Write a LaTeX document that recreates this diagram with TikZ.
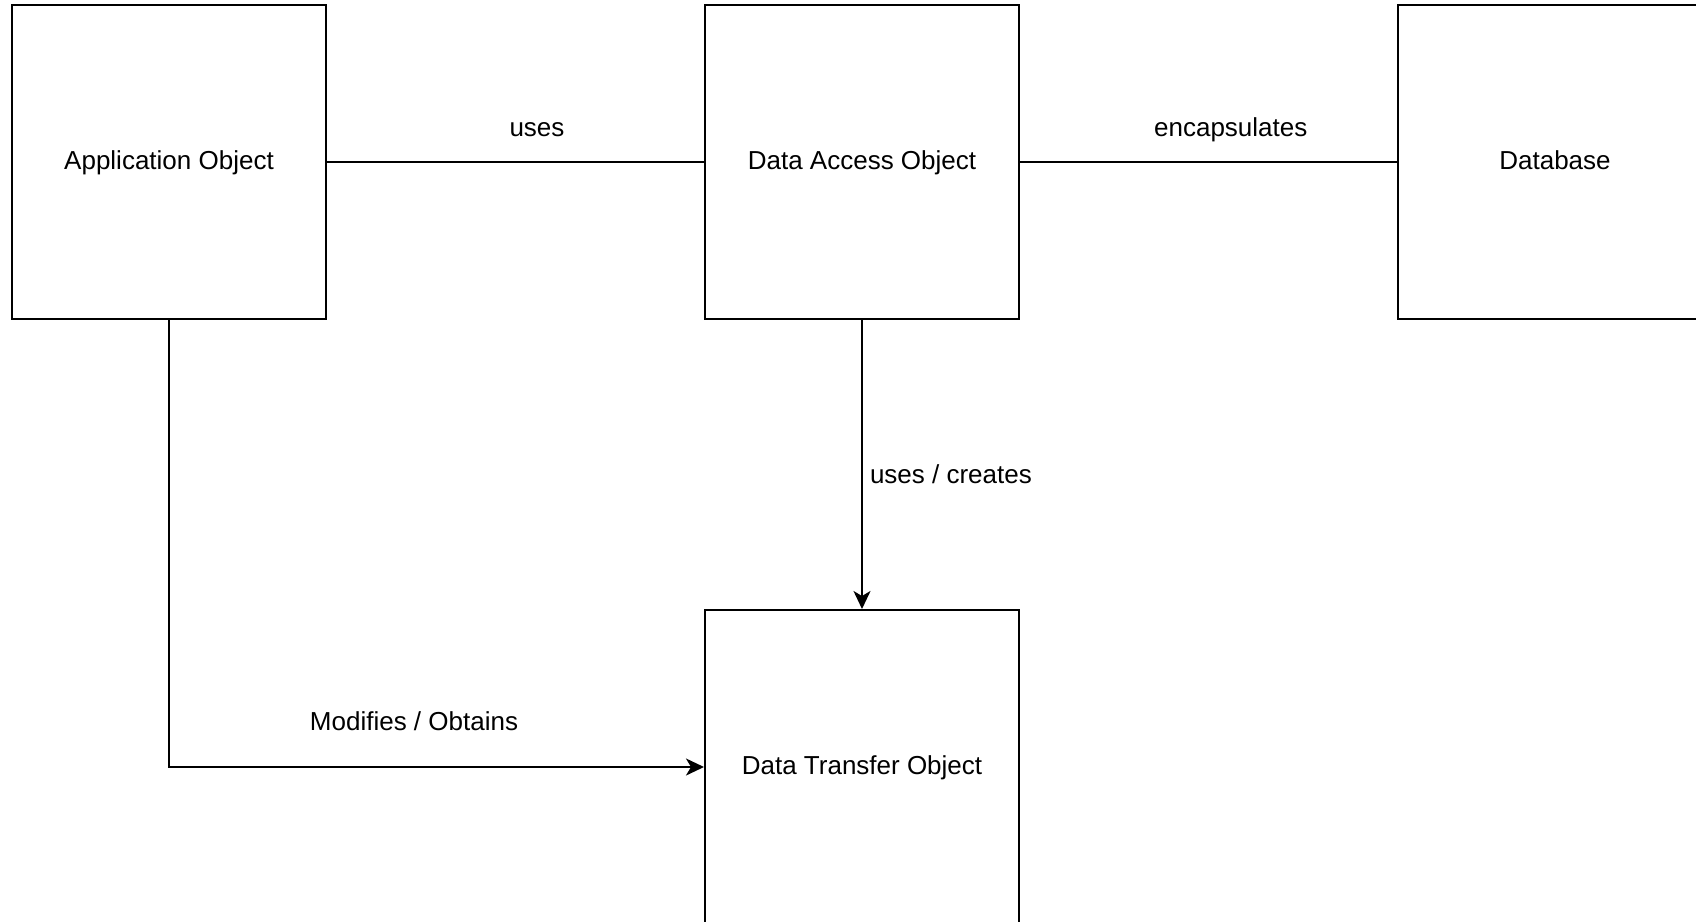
\documentclass[tikz,border=0pt]{standalone}
\usepackage{fontspec}
\setmainfont{Liberation Sans}
\usetikzlibrary{arrows.meta}

\begin{document}
\begin{tikzpicture}[x=0.5pt,y=-0.5pt,
  box/.style={draw,line width=1pt,minimum width=157pt,minimum height=157pt,inner sep=0pt,
    text height=10pt,text depth=3pt,font=\fontsize{13}{15}\selectfont},
  lbl/.style={inner sep=0pt,font=\fontsize{13}{15}\selectfont},
  link/.style={line width=1pt},
  arr/.style={line width=1pt,-{Stealth[length=9pt,width=8.5pt,inset=2.5pt]}}]
\useasboundingbox (0,0) rectangle (1696,921);
\node[box] (app) at (169,162) {Application Object};
\node[box] (dao) at (862,162) {Data Access Object};
\node[box] (db) at (1555,162) {Database};
\node[box] (dto) at (862,767) {Data Transfer Object};
\draw[link] (app) -- node[lbl,pos=0.557,anchor=base,yshift=13pt] (uses) {uses} (dao);
\draw[link] (dao) -- node[lbl,pos=0.559,anchor=base,yshift=13pt] (encaps) {encapsulates} (db);
\draw[arr] (dao) -- node[lbl,pos=0.564,anchor=base west,xshift=3.5pt] (creates) {uses / creates} (dto);
\draw[arr] (app) |- node[lbl,pos=0.729,anchor=base,yshift=18.5pt] (modifies) {Modifies / Obtains} (dto);
\end{tikzpicture}
\end{document}
